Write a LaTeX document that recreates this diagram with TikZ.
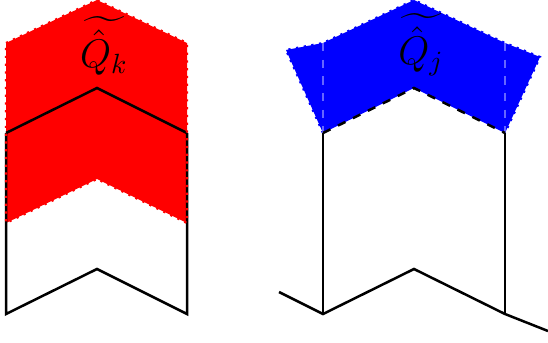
\documentclass[tikz,border=0pt]{standalone}
\usepackage{amsmath}
\begin{document}
\begin{tikzpicture}[x=0.36pt,y=-0.36pt,
  blk/.style={black,line width=0.9pt,line join=miter},
  redreg/.style={fill=red},
  redbd/.style={red,line width=0.8pt,dotted},
  bluereg/.style={fill=blue},
  bluebd/.style={blue,line width=0.8pt,dotted},
  lbl/.style={inner sep=0pt,font=\Large}]
\useasboundingbox (0,0) rectangle (548,342);
% left coordinates
\coordinate (LtL) at (6,43); \coordinate (LtA) at (97,0); \coordinate (LtR) at (187,43);
\coordinate (LmL) at (6,133); \coordinate (LmA) at (97,88); \coordinate (LmR) at (187,133);
\coordinate (LrL) at (6,223); \coordinate (LrA) at (97,179); \coordinate (LrR) at (187,223);
\coordinate (LbL) at (6,314); \coordinate (LbA) at (97,269); \coordinate (LbR) at (187,314);
% right coordinates
\coordinate (RtL) at (323,43); \coordinate (RtA) at (414,0); \coordinate (RtR) at (505,43);
\coordinate (RwL) at (286,50); \coordinate (RwR) at (540,57);
\coordinate (RmL) at (323,133); \coordinate (RmA) at (414,88); \coordinate (RmR) at (505,133);
\coordinate (RbL) at (323,314); \coordinate (RbA) at (414,269); \coordinate (RbR) at (505,314);
\coordinate (ReL) at (279,292); \coordinate (ReR) at (548,331);
% left red region
\fill[redreg] (LtL) -- (LtA) -- (LtR) -- (LrR) -- (LrA) -- (LrL) -- cycle;
\draw[blk] (LmL) -- (LbL) -- (LbA) -- (LbR) -- (LmR);
\draw[blk] (LmL) -- (LmA) -- (LmR);
\draw[redbd] (LtL) -- (LtA) -- (LtR) -- (LrR) -- (LrA) -- (LrL) -- cycle;
\node[lbl] (qk) at (104,46) {$\widetilde{\hat{Q}_k}$};
% right blue region
\fill[bluereg] (RmL) -- (RwL) -- (RtL) -- (RtA) -- (RtR) -- (RwR) -- (RmR) -- (RmA) -- cycle;
\draw[bluebd] (RmL) -- (RwL) -- (RtL) -- (RtA) -- (RtR) -- (RwR) -- (RmR);
\draw[blue!60!white,line width=0.4pt,dashed] (RtL) -- (RmL) (RtR) -- (RmR);
\draw[blk,dashed] (RmL) -- (RmA) -- (RmR);
\draw[blk] (RmL) -- (RbL) (RmR) -- (RbR);
\draw[blk] (ReL) -- (RbL) -- (RbA) -- (RbR) -- (ReR);
\node[lbl] (qj) at (421,45) {$\widetilde{\hat{Q}_j}$};
\end{tikzpicture}
\end{document}
